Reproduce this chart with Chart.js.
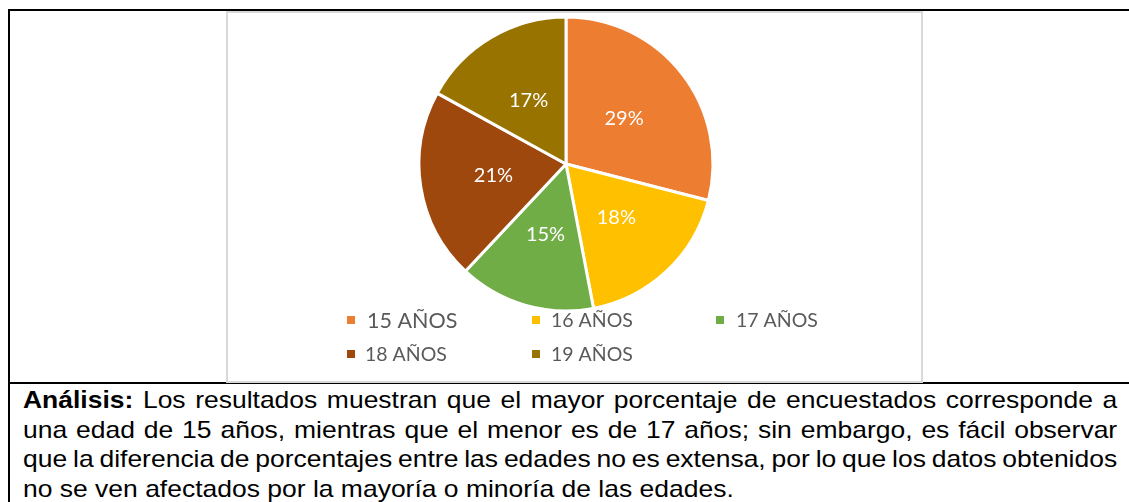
<!DOCTYPE html>
<html>
<head>
<meta charset="utf-8">
<script src="https://cdn.jsdelivr.net/npm/chart.js@4"></script>
<style>
  body{margin:0;width:1129px;height:502px;overflow:hidden;background:#fff;position:relative}
  #tbl{position:absolute;left:8px;top:9px;width:1200px;height:600px;border-left:2px solid #000;border-top:2px solid #000}
  #rowline{position:absolute;left:8px;top:382px;width:1200px;height:2px;background:#000}
  #frame{position:absolute;left:226px;top:11px;width:697px;height:372px;box-sizing:border-box;border:2px solid #d9d9d9;background:#fff}
  #frame canvas{position:absolute;left:0;top:0}
  #txt{position:absolute;left:23px;top:385px;width:992px;transform:scaleX(1.103);transform-origin:0 0;
       font-family:"Liberation Sans",Arial,sans-serif;font-size:24px;line-height:29.5px;color:#000}
  #txt div{white-space:nowrap;text-align:justify;text-align-last:justify}
  #txt div.tight{word-spacing:-1.6px}
  #txt div.last{text-align-last:left}
</style>
</head>
<body>
<div id="tbl"></div>
<div id="rowline"></div>
<div id="frame"><canvas id="myChart" width="693" height="368"></canvas></div>
<div id="txt">
  <div><b>Análisis:</b> Los resultados muestran que el mayor porcentaje de encuestados corresponde a</div>
  <div>una edad de 15 años, mientras que el menor es de 17 años; sin embargo, es fácil observar</div>
  <div class="tight">que la diferencia de porcentajes entre las edades no es extensa, por lo que los datos obtenidos</div>
  <div class="last">no se ven afectados por la mayoría o minoría de las edades.</div>
</div>
<script>
// edades de los encuestados
var categories = ['15 AÑOS', '16 AÑOS', '17 AÑOS', '18 AÑOS', '19 AÑOS'];
var values = [29, 18, 15, 21, 17];
var sliceColors = ['#ED7D31', '#FFC000', '#70AD47', '#9E480E', '#997300'];

// porcentajes blancos dentro de cada sector
var sliceLabels = {
  id: 'sliceLabels',
  afterDatasetsDraw: function(chart){
    var ctx = chart.ctx;
    var meta = chart.getDatasetMeta(0);
    var data = chart.data.datasets[0].data;
    var total = data.reduce(function(a, b){ return a + b; }, 0);
    ctx.save();
    ctx.font = '20px Lato';
    ctx.fillStyle = '#fff';
    ctx.textAlign = 'center';
    ctx.textBaseline = 'middle';
    for (var i = 0; i < meta.data.length; i++){
      var p = meta.data[i].getCenterPoint();
      ctx.fillText(Math.round(data[i] / total * 100) + '%', p.x, p.y);
    }
    ctx.restore();
  }
};

// leyenda de dos filas como en el original
var legendRows = {
  id: 'legendRows',
  afterDraw: function(chart, args, opts){
    var ctx = chart.ctx;
    var ds = chart.data.datasets[0];
    ctx.save();
    ctx.textBaseline = 'middle';
    for (var i = 0; i < chart.data.labels.length; i++){
      var col = i % 3, row = Math.floor(i / 3);
      var y = opts.rowY[row];
      ctx.fillStyle = ds.backgroundColor[i];
      ctx.fillRect(opts.boxX[col], y - 4, 8, 8);
      ctx.fillStyle = '#595959';
      ctx.font = opts.sizes[i] + 'px Lato';
      ctx.fillText(chart.data.labels[i], opts.textX[col] + (i === 0 ? 2 : 0), y + 1);
    }
    ctx.restore();
  }
};

var myChart = document.getElementById('myChart').getContext('2d');
var chart = new Chart(myChart, {
  type: 'pie',
  data: {
    labels: categories,
    datasets: [{
      data: values,
      backgroundColor: sliceColors,
      borderColor: '#fff',
      borderWidth: 3
    }]
  },
  options: {
    responsive: false,
    animation: false,
    events: [],
    radius: 147,
    layout: { padding: { left: 0, top: 0, right: 17, bottom: 66 } },
    plugins: {
      legend: { display: false },
      tooltip: { enabled: false },
      legendRows: {
        rowY: [307, 341],
        boxX: [119, 304, 488],
        textX: [137, 323, 508],
        sizes: [21.5, 19.5, 19.5, 19.5, 19.5]
      }
    }
  },
  plugins: [sliceLabels, legendRows]
});
</script>
</body>
</html>
